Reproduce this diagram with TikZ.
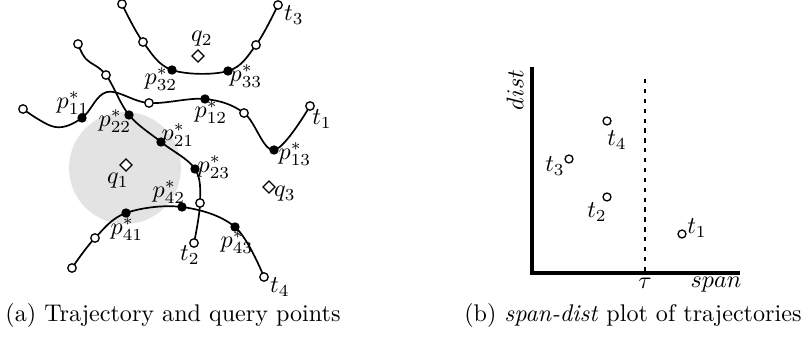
\documentclass[tikz,border=0pt]{standalone}
\usetikzlibrary{shapes.geometric}
\begin{document}
\begin{tikzpicture}[x=0.415pt,y=-0.415pt,
  traj/.style={line width=0.7pt},
  opt/.style={circle,draw,fill=white,line width=0.55pt,inner sep=0pt,minimum size=3.5pt},
  hit/.style={circle,fill=black,inner sep=0pt,minimum size=3.9pt},
  qry/.style={diamond,draw,fill=white,line width=0.55pt,inner sep=0pt,minimum size=5.2pt},
  lbl/.style={inner sep=0pt},
  axisln/.style={line width=1.4pt},
  plotpt/.style={circle,draw,line width=0.55pt,inner sep=0pt,minimum size=3.3pt},
  tauline/.style={line width=1pt,dash pattern=on 1.8pt off 2.3pt}]
\useasboundingbox (0,0) rectangle (808,338);
% query region
\fill[gray!22] (125,168) circle[radius=56];
% ---- coordinates of trajectory points
% t1
\coordinate (a1) at (23,109);
\coordinate (a1b) at (55,127);
\coordinate (p11) at (82,118);
\coordinate (a1c) at (107,92);
\coordinate (a2) at (149,103);
\coordinate (p12) at (205,99);
\coordinate (a3) at (244,113);
\coordinate (p13) at (274,150);
\coordinate (a4) at (310,106);
% t2
\coordinate (b1) at (78,44);
\coordinate (b1b) at (86,59);
\coordinate (b2) at (106,75);
\coordinate (p22) at (129,115);
\coordinate (p21) at (161,142);
\coordinate (p23) at (195,169);
\coordinate (b3) at (200,203);
\coordinate (b4) at (194,243);
% t3
\coordinate (c1) at (122,4);
\coordinate (c2) at (143,42);
\coordinate (p32) at (172,70);
\coordinate (p33) at (228,71);
\coordinate (c3) at (256,45);
\coordinate (c4) at (278,5);
% t4
\coordinate (d1) at (72,268);
\coordinate (d2) at (95,238);
\coordinate (p41) at (126,213);
\coordinate (p42) at (182,207);
\coordinate (p43) at (235,227);
\coordinate (d3) at (264,277);
% ---- trajectories
\draw[traj] plot[smooth,tension=0.6] coordinates {(a1) (a1b) (p11) (a1c) (a2) (p12) (a3) (p13) (a4)};
\draw[traj] plot[smooth,tension=0.6] coordinates {(b1) (b1b) (b2) (p22) (p21) (p23) (b3) (b4)};
\draw[traj] plot[smooth,tension=0.6] coordinates {(c1) (c2) (p32) (p33) (c3) (c4)};
\draw[traj] plot[smooth,tension=0.6] coordinates {(d1) (d2) (p41) (p42) (p43) (d3)};
% ---- points
\foreach \n in {a1,a2,a3,a4,b1,b2,b3,b4,c1,c2,c3,c4,d1,d2,d3}
  \node[opt] (o\n) at (\n) {};
\foreach \n in {p11,p12,p13,p21,p22,p23,p32,p33,p41,p42,p43}
  \node[hit] (h\n) at (\n) {};
% queries
\node[qry] (q1) at (126,165) {};
\node[qry] (q2) at (198,56) {};
\node[qry] (q3) at (269,187) {};
% ---- labels
\node[lbl] (lq1) at (118,181) {$q_1$};
\node[lbl] (lq2) at (202,39) {$q_2$};
\node[lbl] (lq3) at (285,194) {$q_3$};
\node[lbl] (lp11) at (73,103) {$p^*_{11}$};
\node[lbl] (lp12) at (211,112) {$p^*_{12}$};
\node[lbl] (lp13) at (295,154) {$p^*_{13}$};
\node[lbl] (lp21) at (178,135) {$p^*_{21}$};
\node[lbl] (lp22) at (115,121) {$p^*_{22}$};
\node[lbl] (lp23) at (214,167) {$p^*_{23}$};
\node[lbl] (lp32) at (161,79) {$p^*_{32}$};
\node[lbl] (lp33) at (246,76) {$p^*_{33}$};
\node[lbl] (lp41) at (127,229) {$p^*_{41}$};
\node[lbl] (lp42) at (169,192) {$p^*_{42}$};
\node[lbl] (lp43) at (237,242) {$p^*_{43}$};
\node[lbl] (lt1) at (322,119) {$t_1$};
\node[lbl] (lt2) at (190,255) {$t_2$};
\node[lbl] (lt3) at (294,15) {$t_3$};
\node[lbl] (lt4) at (280,287) {$t_4$};
% ---- span-dist plot
\coordinate (ytop) at (532,67);
\coordinate (orig) at (532,273);
\coordinate (xend) at (740,273);
\coordinate (tautop) at (645,79);
\coordinate (taubot) at (645,273);
\draw[tauline] (tautop) -- (taubot);
\draw[axisln] (ytop) -- (orig) -- (xend);
\node[lbl,rotate=90] (ldist) at (515,90) {$dist$};
\node[lbl,anchor=north] (lspan) at (716,277) {$span$};
\node[lbl,anchor=north] (ltau) at (645,278) {$\tau$};
\node[plotpt] (s1) at (682,234) {};
\node[plotpt] (s2) at (607,197) {};
\node[plotpt] (s3) at (569,159) {};
\node[plotpt] (s4) at (607,121) {};
\node[lbl] (ls1) at (697,228) {$t_1$};
\node[lbl] (ls2) at (597,212) {$t_2$};
\node[lbl] (ls3) at (555,166) {$t_3$};
\node[lbl] (ls4) at (617,140) {$t_4$};
% ---- captions
\node[lbl] (capa) at (173,315) {(a) Trajectory and query points};
\node[lbl,anchor=east] (capb) at (802,315) {(b) \textit{span-dist} plot of trajectories};
\end{tikzpicture}
\end{document}
